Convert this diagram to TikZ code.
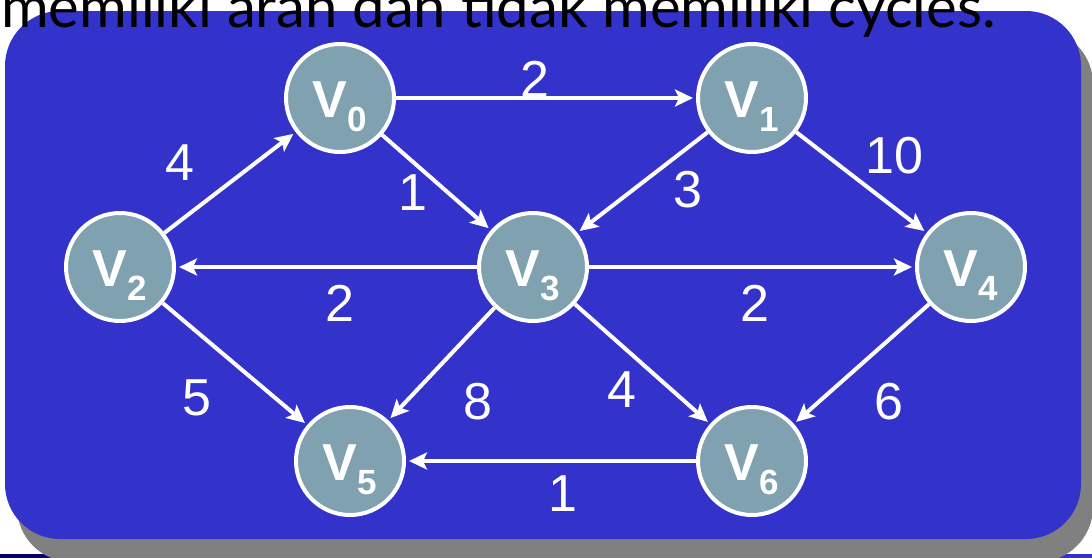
\documentclass[tikz,border=0pt]{standalone}
\usepackage{fontspec}
\setmainfont{Liberation Sans}
\newfontfamily\titlefont{Lato}
\usetikzlibrary{arrows.meta}
\definecolor{slidebg}{RGB}{51,51,204}
\definecolor{vfill}{RGB}{127,161,176}
\definecolor{navyline}{RGB}{0,0,102}
\definecolor{shadowgray}{RGB}{128,128,128}
\newcommand\vname[1]{\raisebox{-19pt}[0pt][0pt]{V\raisebox{-14pt}{\fontsize{35}{35}\selectfont #1}}}
\begin{document}
\begin{tikzpicture}[x=1pt,y=-1pt,
	vert/.style={circle,draw=white,line width=4pt,fill=vfill,minimum size=108pt,inner sep=0pt,text=white,font=\fontsize{52}{52}\selectfont\bfseries},
	wline/.style={draw=white,line width=4pt,-{Stealth[length=18pt,width=17pt,inset=4pt]},shorten >=3pt},
	wlbl/.style={text=white,font=\fontsize{52}{52}\selectfont,inner sep=0pt}]
	\clip (0,0) rectangle (1092,557);
	\shade[left color=navyline,right color=slidebg] (0,554) rectangle (1092,557);
	\fill[shadowgray,rounded corners=55pt] (17,29) rectangle (1093,562);
	\fill[slidebg,rounded corners=55pt] (5,11) rectangle (1081,539);
	\node[anchor=base west,inner sep=0pt,font=\titlefont\fontsize{58}{58}\selectfont] (title) at (1,27) {memiliki arah dan tidak memiliki cycles.};
	% vertices
	\foreach \n/\x/\y in {0/340/98,1/752/98,2/120/267,3/533/267,4/971/267,5/350/461,6/752/461}
	\node[vert] (v\n) at (\x,\y) {\vname{\n}};
	% weighted arcs
	\foreach \a/\b/\w/\dx/\dy in {0/1/2/-11/-19, 2/0/4/-50/-19.5, 0/3/1/-23.5/10.5, 1/3/3/45.5/7.5,
		1/4/10/32.5/-26.5, 3/2/2/13.5/36, 3/4/2/3/36, 2/5/5/-38/34,
		3/5/8/36.5/38, 3/6/4/-20.5/26, 4/6/6/27.5/38, 6/5/1/12/33}
	\draw[wline] (v\a) -- node[wlbl,shift={(\dx,\dy)}] {\w} (v\b);
\end{tikzpicture}
\end{document}
